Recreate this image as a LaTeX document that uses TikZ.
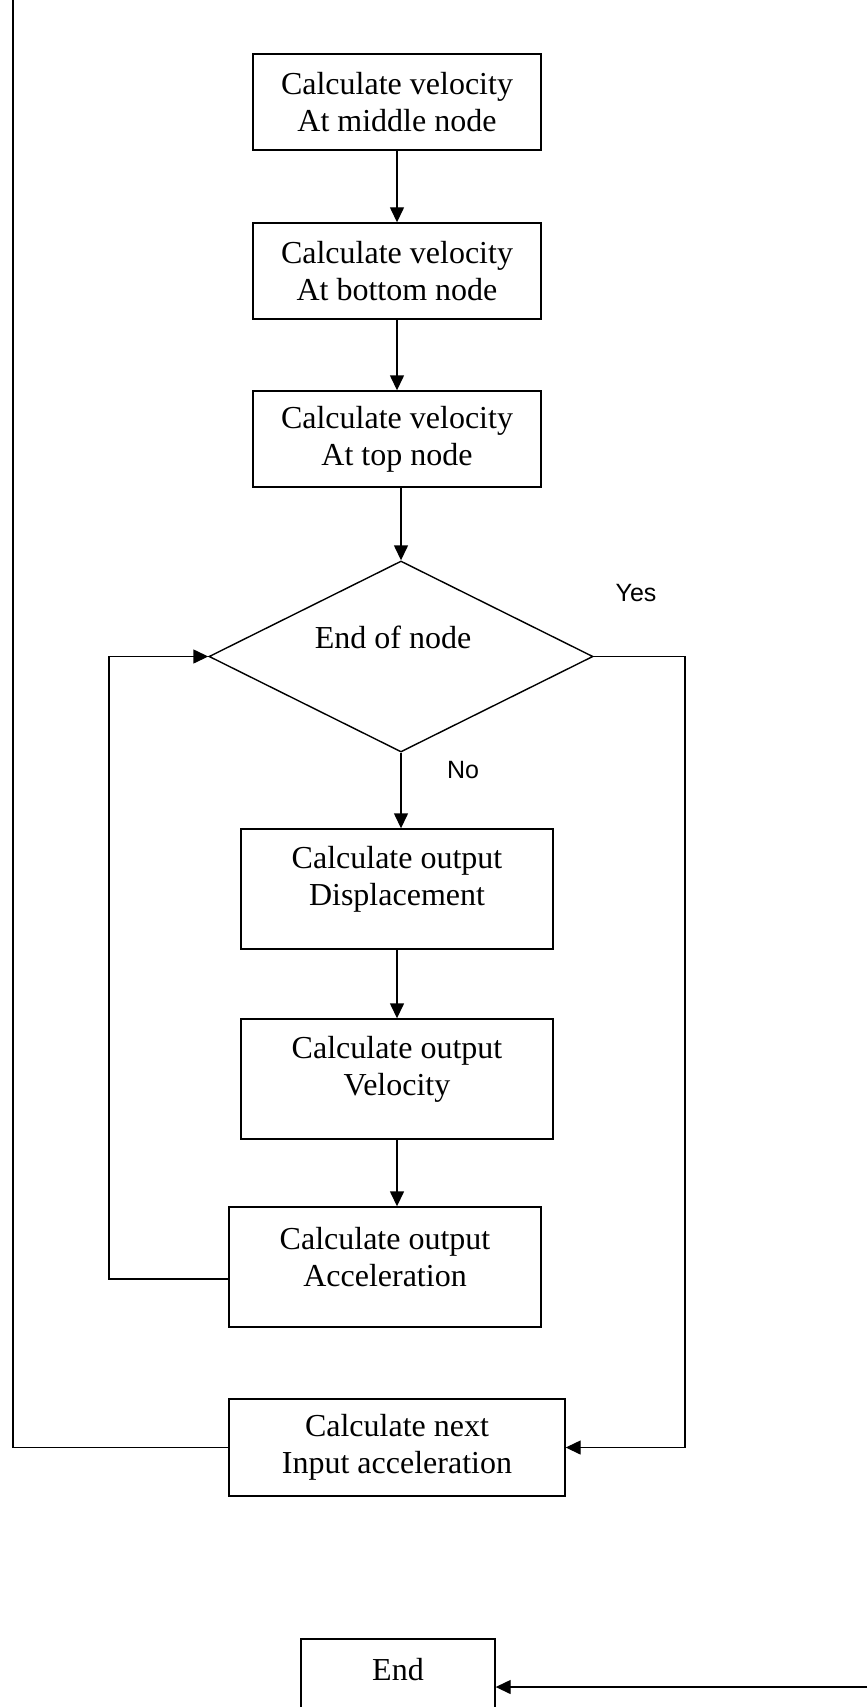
\documentclass[tikz,border=0pt]{standalone}
\usepackage{fontspec}
\setmainfont{Liberation Serif}
\newfontfamily\labelfont{Liberation Sans}
\usetikzlibrary{shapes.geometric,arrows.meta}
\begin{document}
\begin{tikzpicture}[x=1pt,y=-1pt,
  line width=1.4pt,
  stepbox/.style={draw, rectangle, inner sep=0pt},
  boxtext/.style={align=center, font=\fontsize{32}{37}\selectfont, inner sep=0pt},
  answer/.style={font=\labelfont\fontsize{25}{30}\selectfont, inner sep=0pt},
  flow/.style={-{Triangle[length=15pt,width=14pt]}},
]
\useasboundingbox (0,0) rectangle (867,1707);
\clip (0,0) rectangle (867,1707);

% velocity steps
\node[stepbox, boxtext, minimum width=288, minimum height=96] (vmid) at (397,102) {Calculate velocity\\At middle node};
\node[stepbox, boxtext, minimum width=288, minimum height=96] (vbot) at (397,271) {Calculate velocity\\At bottom node};
\node[stepbox, boxtext, minimum width=288, minimum height=96] (vtop) at (397,439) {Calculate velocity\\At top node};

% decision
\node[draw, diamond, minimum width=384, minimum height=191, inner sep=0pt] (dia) at (401,656.5) {};
\node[boxtext] (diat) at (393,637) {End of node};
\node[answer] (yes) at (636,593) {Yes};
\node[answer] (no) at (463,770) {No};

% output steps
\node[stepbox, minimum width=312, minimum height=120] (disp) at (397,889) {};
\node[boxtext] (dispt) at ([yshift=10]disp.center) {Calculate output\\Displacement};
\node[stepbox, minimum width=312, minimum height=120] (velo) at (397,1079) {};
\node[boxtext] (velot) at ([yshift=10]velo.center) {Calculate output\\Velocity};
\node[stepbox, minimum width=312, minimum height=120] (acc) at (385,1267) {};
\node[boxtext] (acct) at ([yshift=10]acc.center) {Calculate output\\Acceleration};

% next input
\node[stepbox, boxtext, minimum width=336, minimum height=97] (next) at (397,1447.5) {Calculate next\\Input acceleration};

% end
\node[stepbox, minimum width=194, minimum height=96] (endb) at (398,1687) {};
\node[boxtext] (endt) at (398,1670) {End};

% routing points
\coordinate (loopx) at (109,1000);
\coordinate (yesx) at (685,1000);
\coordinate (topleft) at (13,0);
\coordinate (rightin) at (867,1687);

% connectors
\draw[flow] (vmid) -- (vbot);
\draw[flow] (vbot) -- (vtop);
\draw[flow] (dia.north |- vtop.south) -- (dia.north);
\draw[flow] (dia.south) -- (dia.south |- disp.north);
\draw[flow] (disp.south) -- (disp.south |- velo.north);
\draw[flow] (velo.south) -- (velo.south |- acc.north);
\draw[flow] ([yshift=-12]acc.west) -| (loopx) |- (dia.west);
\draw[flow] (dia.east) -| (yesx) |- (next.east);
\draw (next.west) -| (topleft);
\draw[flow] (rightin) -- (endb.east);
\end{tikzpicture}
\end{document}
